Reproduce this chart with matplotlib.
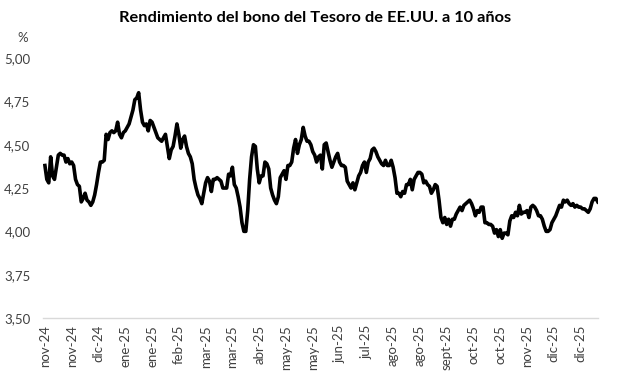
import matplotlib
matplotlib.use("Agg")
import matplotlib.pyplot as plt
from matplotlib.ticker import FuncFormatter

# 10-year US Treasury yield (%), one value per trading day, Nov 2024 - Dec 2025
yields = [
    4.38, 4.30, 4.28, 4.43, 4.32, 4.30, 4.37, 4.44, 4.45, 4.44,
    4.44, 4.40, 4.42, 4.39, 4.40, 4.38, 4.30, 4.27, 4.26, 4.17,
    4.19, 4.22, 4.18, 4.17, 4.15, 4.17, 4.21, 4.27, 4.34, 4.40,
    4.40, 4.41, 4.56, 4.53, 4.57, 4.58, 4.57, 4.58, 4.63, 4.56,
    4.54, 4.57, 4.58, 4.60, 4.62, 4.66, 4.70, 4.76, 4.77, 4.80,
    4.70, 4.63, 4.61, 4.62, 4.58, 4.64, 4.63, 4.60, 4.57, 4.54,
    4.53, 4.52, 4.54, 4.56, 4.49, 4.42, 4.47, 4.49, 4.55, 4.62,
    4.56, 4.48, 4.53, 4.55, 4.49, 4.45, 4.43, 4.39, 4.30, 4.25,
    4.21, 4.19, 4.16, 4.22, 4.28, 4.31, 4.29, 4.23, 4.30, 4.30,
    4.31, 4.30, 4.29, 4.25, 4.25, 4.25, 4.33, 4.32, 4.37, 4.27,
    4.25, 4.20, 4.14, 4.05, 4.00, 4.00, 4.12, 4.30, 4.43, 4.50,
    4.49, 4.36, 4.28, 4.32, 4.32, 4.40, 4.39, 4.36, 4.25, 4.21,
    4.18, 4.16, 4.20, 4.31, 4.33, 4.35, 4.30, 4.38, 4.38, 4.40,
    4.48, 4.53, 4.45, 4.50, 4.53, 4.60, 4.55, 4.52, 4.52, 4.50,
    4.46, 4.44, 4.40, 4.43, 4.44, 4.36, 4.50, 4.51, 4.46, 4.41,
    4.37, 4.40, 4.43, 4.45, 4.40, 4.38, 4.38, 4.37, 4.29, 4.27,
    4.25, 4.28, 4.24, 4.28, 4.32, 4.34, 4.38, 4.40, 4.34, 4.40,
    4.42, 4.47, 4.48, 4.46, 4.43, 4.41, 4.39, 4.38, 4.41, 4.38,
    4.38, 4.41, 4.37, 4.31, 4.22, 4.22, 4.20, 4.23, 4.22, 4.27,
    4.27, 4.30, 4.24, 4.30, 4.32, 4.34, 4.34, 4.33, 4.28, 4.29,
    4.27, 4.26, 4.22, 4.24, 4.27, 4.26, 4.18, 4.08, 4.05, 4.08,
    4.04, 4.07, 4.03, 4.07, 4.07, 4.10, 4.12, 4.14, 4.12, 4.15,
    4.16, 4.17, 4.18, 4.16, 4.13, 4.09, 4.12, 4.11, 4.14, 4.14,
    4.05, 4.05, 4.04, 4.04, 4.03, 3.99, 4.01, 3.97, 4.01, 3.96,
    3.99, 3.99, 3.98, 4.06, 4.09, 4.08, 4.11, 4.09, 4.15, 4.10,
    4.11, 4.11, 4.12, 4.08, 4.14, 4.15, 4.14, 4.12, 4.09, 4.09,
    4.07, 4.03, 4.00, 4.00, 4.01, 4.05, 4.07, 4.09, 4.12, 4.15,
    4.14, 4.18, 4.17, 4.18, 4.16, 4.15, 4.16, 4.14, 4.15, 4.14,
    4.14, 4.13, 4.13, 4.12, 4.11, 4.13, 4.17, 4.19, 4.19, 4.17,
]

tick_labels = ["nov-24", "nov-24", "dic-24", "ene-25", "ene-25", "feb-25",
               "mar-25", "mar-25", "abr-25", "may-25", "may-25", "jun-25",
               "jul-25", "ago-25", "ago-25", "sept-25", "oct-25", "oct-25",
               "nov-25", "dic-25", "dic-25"]
tick_step = 14
y_ticks = [3.50, 3.75, 4.00, 4.25, 4.50, 4.75, 5.00]

plt.rcParams['font.family'] = ['Lato', 'DejaVu Sans']

fig = plt.figure(figsize=(6.26, 3.82), dpi=100)
ax = fig.add_axes([0.0687, 0.1675, 0.8863, 0.6805])

ax.plot(range(len(yields)), yields, color='black', lw=2.6, solid_joinstyle='round')

ax.set_xlim(-1, len(yields) - 1)
ax.set_ylim(3.5, 5.0)
ax.set_yticks(y_ticks)
ax.yaxis.set_major_formatter(FuncFormatter(lambda v, p: f"{v:.2f}".replace('.', ',')))
ax.set_xticks([i * tick_step for i in range(len(tick_labels))])
ax.set_xticklabels(tick_labels, rotation=90)

for s in ['top', 'right', 'left']:
    ax.spines[s].set_visible(False)
ax.spines['bottom'].set_color('#d9d9d9')
ax.spines['bottom'].set_linewidth(1)
ax.tick_params(axis='both', length=0, labelsize=9.5, labelcolor='#404040')
ax.tick_params(axis='y', pad=9)
ax.tick_params(axis='x', pad=5)

fig.text(0.503, 0.953, "Rendimiento del bono del Tesoro de EE.UU. a 10 años",
         ha='center', va='center', fontsize=11.8, fontweight='bold', color='black')
fig.text(0.036, 0.9, "%", ha='center', va='center', fontsize=9.5, color='#404040')

fig.savefig("out.png", dpi=100)
